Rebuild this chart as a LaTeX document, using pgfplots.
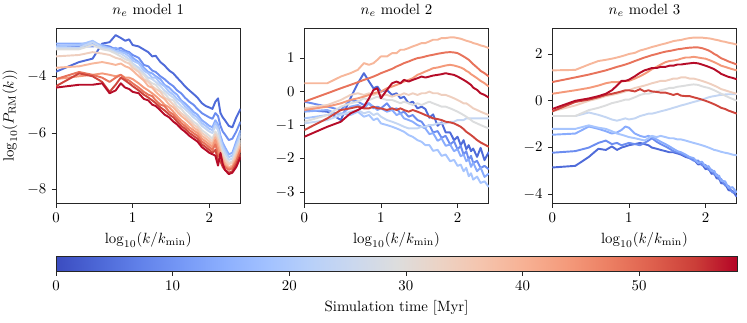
\documentclass[border=0pt]{standalone}
\usepackage{pgfplots}
\usepackage{pgfplotstable}
\pgfplotsset{compat=1.18}

\definecolor{cA}{RGB}{79,107,217}
\definecolor{cB}{RGB}{108,141,240}
\definecolor{cC}{RGB}{137,172,253}
\definecolor{cD}{RGB}{167,197,254}
\definecolor{cE}{RGB}{196,214,243}
\definecolor{cF}{RGB}{220,221,222}
\definecolor{cG}{RGB}{239,207,191}
\definecolor{cH}{RGB}{247,183,155}
\definecolor{cI}{RGB}{244,153,122}
\definecolor{cJ}{RGB}{232,115,91}
\definecolor{cK}{RGB}{207,69,60}
\definecolor{cL}{RGB}{182,12,40}

\pgfplotsset{colormap={coolwarm}{rgb255=(59,76,192) rgb255=(77,104,215) rgb255=(98,130,234) rgb255=(119,154,247) rgb255=(141,176,254) rgb255=(163,194,255) rgb255=(184,208,249) rgb255=(203,216,238) rgb255=(221,221,221) rgb255=(236,211,197) rgb255=(245,196,173) rgb255=(247,177,148) rgb255=(244,154,123) rgb255=(236,127,99) rgb255=(222,96,77) rgb255=(203,62,56) rgb255=(180,4,38)}}

\pgfplotstableread{
x a b c d e f g h i j k l
0.000 -3.84 -2.95 -2.85 -2.95 -3.00 -3.05 -3.30 -3.70 -4.10 -4.10 -4.35 -4.40
0.301 -3.50 -2.95 -2.85 -2.90 -3.00 -3.05 -3.25 -3.65 -4.00 -3.85 -3.90 -4.30
0.477 -3.38 -2.95 -2.85 -2.75 -2.80 -2.90 -3.15 -3.55 -3.95 -3.95 -4.00 -4.30
0.602 -2.85 -2.90 -2.90 -2.95 -3.00 -3.05 -3.20 -3.50 -3.90 -4.05 -4.20 -4.25
0.699 -2.80 -2.95 -3.05 -3.00 -3.05 -3.10 -3.25 -3.55 -3.95 -4.20 -4.55 -4.60
0.778 -2.55 -3.05 -3.00 -3.10 -3.15 -3.20 -3.35 -3.60 -4.00 -4.05 -4.30 -4.50
0.845 -2.65 -3.00 -3.10 -3.15 -3.20 -3.30 -3.40 -3.55 -3.95 -3.95 -4.05 -4.25
0.903 -2.75 -3.10 -3.15 -3.20 -3.30 -3.40 -3.50 -3.65 -4.05 -4.10 -4.15 -4.40
0.954 -2.70 -3.15 -3.20 -3.30 -3.40 -3.45 -3.55 -3.70 -4.05 -4.15 -4.25 -4.45
1.000 -2.90 -3.25 -3.35 -3.45 -3.55 -3.60 -3.70 -3.80 -4.10 -4.25 -4.35 -4.55
1.079 -2.95 -3.35 -3.50 -3.55 -3.70 -3.80 -3.85 -4.00 -4.25 -4.40 -4.50 -4.60
1.146 -3.06 -3.60 -3.70 -3.80 -3.90 -3.95 -4.10 -4.15 -4.40 -4.55 -4.65 -4.80
1.204 -3.15 -3.65 -3.85 -3.90 -4.05 -4.15 -4.20 -4.35 -4.50 -4.65 -4.75 -4.85
1.255 -3.30 -3.80 -3.90 -4.05 -4.10 -4.25 -4.35 -4.40 -4.60 -4.70 -4.85 -5.00
1.301 -3.28 -3.85 -4.00 -4.05 -4.20 -4.30 -4.45 -4.55 -4.70 -4.85 -4.95 -5.05
1.362 -3.50 -4.00 -4.10 -4.25 -4.35 -4.50 -4.55 -4.70 -4.85 -5.00 -5.10 -5.20
1.415 -3.62 -4.10 -4.30 -4.35 -4.50 -4.60 -4.75 -4.80 -5.00 -5.05 -5.20 -5.35
1.477 -3.80 -4.25 -4.40 -4.55 -4.65 -4.80 -4.85 -5.00 -5.10 -5.25 -5.35 -5.45
1.531 -3.90 -4.35 -4.55 -4.65 -4.75 -4.85 -5.00 -5.10 -5.25 -5.35 -5.45 -5.60
1.580 -4.05 -4.50 -4.65 -4.80 -4.90 -5.05 -5.15 -5.25 -5.40 -5.50 -5.60 -5.70
1.633 -4.20 -4.60 -4.85 -4.90 -5.05 -5.15 -5.30 -5.40 -5.55 -5.65 -5.75 -5.85
1.681 -4.35 -4.75 -4.95 -5.05 -5.15 -5.30 -5.40 -5.50 -5.65 -5.75 -5.85 -5.95
1.740 -4.50 -4.90 -5.10 -5.20 -5.30 -5.45 -5.55 -5.65 -5.80 -5.90 -6.00 -6.10
1.792 -4.62 -5.00 -5.25 -5.35 -5.45 -5.60 -5.70 -5.80 -5.90 -6.00 -6.10 -6.20
1.845 -4.75 -5.15 -5.35 -5.45 -5.55 -5.70 -5.80 -5.90 -6.00 -6.10 -6.20 -6.30
1.903 -4.95 -5.30 -5.55 -5.65 -5.75 -5.90 -6.00 -6.10 -6.20 -6.30 -6.40 -6.50
1.954 -5.05 -5.38 -5.65 -5.75 -5.85 -6.00 -6.10 -6.20 -6.30 -6.40 -6.50 -6.60
2.000 -5.10 -5.45 -5.75 -5.85 -5.95 -6.10 -6.20 -6.30 -6.40 -6.50 -6.60 -6.70
2.041 -5.15 -5.50 -5.80 -5.90 -6.00 -6.20 -6.30 -6.40 -6.50 -6.60 -6.70 -6.75
2.079 -4.90 -5.30 -5.55 -5.65 -5.75 -5.95 -6.05 -6.15 -6.25 -6.40 -6.60 -6.80
2.114 -4.78 -5.40 -5.70 -5.80 -5.90 -6.10 -6.25 -6.40 -6.55 -6.75 -6.95 -7.15
2.146 -5.30 -5.75 -6.10 -6.20 -6.30 -6.50 -6.60 -6.70 -6.80 -6.90 -7.00 -6.70
2.176 -5.45 -5.95 -6.35 -6.45 -6.55 -6.70 -6.80 -6.90 -7.00 -7.10 -7.20 -7.10
2.204 -5.55 -6.05 -6.50 -6.60 -6.70 -6.85 -6.95 -7.05 -7.15 -7.20 -7.30 -7.30
2.255 -5.75 -6.25 -6.75 -6.85 -6.95 -7.05 -7.10 -7.20 -7.25 -7.30 -7.40 -7.45
2.301 -5.80 -6.20 -6.70 -6.80 -6.90 -7.00 -7.05 -7.15 -7.20 -7.25 -7.35 -7.40
2.352 -5.45 -5.95 -6.30 -6.40 -6.50 -6.65 -6.75 -6.85 -6.95 -7.00 -7.10 -7.20
2.408 -5.15 -5.60 -5.90 -6.00 -6.10 -6.25 -6.35 -6.45 -6.55 -6.60 -6.75 -6.85
}\tabA

\pgfplotstableread{
x a b c d e f g h i j k l
0.000 -0.55 -0.30 -0.60 -0.80 -0.95 -0.90 -0.50 0.25 -0.55 -0.30 -1.15 -1.35
0.301 -0.60 -0.45 -0.55 -0.70 -0.85 -0.70 -0.40 0.25 -0.45 -0.05 -0.80 -1.05
0.477 -0.85 -0.55 -0.70 -0.65 -0.70 -0.45 -0.25 0.45 -0.35 0.10 -0.55 -0.90
0.602 -0.20 -0.25 -0.45 -0.70 -0.60 -0.35 -0.10 0.55 -0.25 0.20 -0.50 -0.65
0.699 0.25 -0.30 -0.40 -0.60 -0.55 -0.30 -0.05 0.65 -0.20 0.28 -0.45 -0.55
0.778 0.55 -0.40 -0.50 -0.75 -0.65 -0.20 -0.10 0.85 -0.15 0.35 -0.50 -0.45
0.845 0.30 -0.35 -0.35 -0.70 -0.60 -0.25 -0.05 0.80 -0.10 0.40 -0.50 -0.20
0.903 0.10 -0.50 -0.45 -0.85 -0.70 -0.20 -0.10 0.85 -0.05 0.45 -0.45 0.05
0.954 0.15 -0.45 -0.55 -0.80 -0.65 -0.15 -0.05 0.95 -0.02 0.50 -0.50 0.10
1.000 0.00 -0.50 -0.50 -0.95 -0.75 -0.20 -0.10 1.05 0.00 0.55 -0.50 -0.20
1.079 0.05 -0.35 -0.60 -1.00 -0.85 -0.25 -0.10 1.05 0.10 0.62 -0.55 0.05
1.146 -0.10 -0.55 -0.55 -1.05 -0.90 -0.25 -0.15 1.15 0.15 0.68 -0.50 0.25
1.204 -0.05 -0.50 -0.70 -1.10 -0.95 -0.30 -0.10 1.15 0.20 0.75 -0.55 0.30
1.255 -0.20 -0.65 -0.65 -1.15 -1.00 -0.35 -0.10 1.25 0.25 0.80 -0.50 0.25
1.301 -0.15 -0.60 -0.80 -1.20 -1.05 -0.30 -0.05 1.25 0.30 0.85 -0.55 0.35
1.362 -0.35 -0.75 -0.85 -1.30 -1.10 -0.35 -0.10 1.30 0.35 0.90 -0.60 0.30
1.415 -0.30 -0.70 -0.90 -1.35 -1.10 -0.40 -0.05 1.35 0.40 0.95 -0.55 0.35
1.477 -0.50 -0.85 -1.00 -1.45 -1.10 -0.35 -0.10 1.40 0.50 1.00 -0.60 0.40
1.531 -0.45 -0.90 -1.05 -1.50 -1.05 -0.40 -0.05 1.45 0.55 1.02 -0.65 0.45
1.580 -0.52 -1.06 -1.10 -1.60 -1.05 -0.35 -0.05 1.45 0.60 1.05 -0.70 0.42
1.633 -0.78 -1.00 -1.27 -1.60 -1.00 -0.30 0.00 1.50 0.65 1.08 -0.75 0.45
1.681 -0.68 -1.22 -1.24 -1.77 -1.00 -0.35 -0.05 1.55 0.70 1.10 -0.80 0.48
1.740 -1.02 -1.18 -1.47 -1.74 -0.95 -0.40 -0.05 1.55 0.72 1.13 -0.82 0.50
1.792 -0.92 -1.38 -1.40 -1.92 -0.95 -0.45 -0.10 1.60 0.75 1.15 -0.85 0.52
1.845 -1.22 -1.32 -1.62 -1.88 -0.95 -0.45 -0.10 1.60 0.78 1.17 -0.90 0.55
1.903 -1.22 -1.58 -1.58 -2.08 -0.90 -0.50 -0.15 1.62 0.80 1.18 -0.92 0.52
1.954 -1.45 -1.48 -1.78 -2.04 -0.90 -0.55 -0.20 1.62 0.78 1.17 -0.95 0.50
2.000 -1.35 -1.73 -1.72 -2.22 -0.85 -0.60 -0.25 1.60 0.75 1.15 -1.00 0.45
2.041 -1.60 -1.62 -1.93 -2.18 -0.85 -0.65 -0.30 1.58 0.72 1.10 -1.05 0.40
2.079 -1.45 -1.88 -1.88 -2.38 -0.85 -0.70 -0.35 1.55 0.68 1.05 -1.12 0.35
2.114 -1.72 -1.78 -2.08 -2.28 -0.80 -0.75 -0.35 1.52 0.62 1.00 -1.20 0.30
2.146 -1.60 -2.03 -2.02 -2.53 -0.80 -0.80 -0.40 1.50 0.58 0.95 -1.25 0.25
2.176 -1.78 -1.92 -2.25 -2.44 -0.80 -0.85 -0.45 1.48 0.52 0.88 -1.30 0.20
2.204 -1.70 -2.13 -2.12 -2.63 -0.80 -0.90 -0.50 1.45 0.48 0.82 -1.35 0.12
2.255 -1.95 -2.07 -2.38 -2.54 -0.80 -0.95 -0.55 1.42 0.40 0.72 -1.45 0.05
2.301 -1.68 -2.28 -2.27 -2.73 -0.80 -1.00 -0.60 1.38 0.32 0.62 -1.52 -0.05
2.352 -2.05 -2.22 -2.55 -2.68 -0.80 -1.05 -0.65 1.35 0.25 0.55 -1.58 -0.10
2.408 -1.80 -2.32 -2.45 -2.85 -0.80 -1.10 -0.70 1.30 0.15 0.45 -1.65 -0.18
}\tabB

\pgfplotstableread{
x a b c d e f g h i j k l
0.000 -2.85 -2.22 -1.45 -1.20 -0.65 -0.65 -0.45 1.30 0.30 0.80 -0.45 -0.35
0.301 -2.78 -2.15 -1.40 -1.20 -0.65 -0.65 -0.20 1.32 0.45 1.00 -0.05 0.00
0.477 -2.40 -2.00 -1.10 -1.05 -0.50 -0.40 0.00 1.55 0.55 1.12 0.05 0.10
0.602 -2.05 -1.80 -1.20 -1.15 -0.60 -0.30 0.10 1.70 0.65 1.22 0.15 0.20
0.699 -2.10 -1.70 -1.30 -1.20 -0.70 -0.20 0.20 1.75 0.75 1.30 0.25 0.30
0.778 -1.95 -1.85 -1.40 -1.30 -0.80 -0.10 0.25 1.80 0.80 1.38 0.30 0.45
0.845 -2.10 -1.80 -1.35 -1.40 -0.85 -0.05 0.30 1.85 0.80 1.45 0.35 0.65
0.903 -2.00 -1.90 -1.25 -1.45 -0.80 0.00 0.35 1.90 0.82 1.50 0.40 0.85
0.954 -1.95 -1.85 -1.10 -1.50 -0.75 0.05 0.40 1.95 0.85 1.55 0.45 0.85
1.000 -1.90 -1.80 -1.15 -1.55 -0.80 0.05 0.45 2.00 0.85 1.60 0.45 0.90
1.079 -1.85 -1.85 -1.40 -1.60 -0.75 0.15 0.55 2.05 0.95 1.70 0.40 1.05
1.146 -1.80 -1.90 -1.50 -1.65 -0.65 0.25 0.60 2.15 1.05 1.78 0.50 1.20
1.204 -1.85 -1.80 -1.55 -1.70 -0.60 0.30 0.65 2.20 1.15 1.85 0.40 1.30
1.255 -1.90 -1.70 -1.50 -1.60 -0.55 0.30 0.70 2.25 1.25 1.90 0.45 1.35
1.301 -2.00 -1.60 -1.55 -1.50 -0.55 0.35 0.75 2.30 1.35 1.95 0.40 1.40
1.362 -2.05 -1.75 -1.65 -1.55 -0.50 0.40 0.80 2.35 1.45 2.00 0.38 1.40
1.415 -2.10 -1.85 -1.75 -1.50 -0.45 0.45 0.85 2.40 1.55 2.05 0.35 1.45
1.477 -2.15 -1.95 -1.85 -1.55 -0.40 0.50 0.85 2.45 1.65 2.10 0.35 1.45
1.531 -2.20 -2.05 -1.95 -1.60 -0.35 0.55 0.90 2.50 1.70 2.13 0.30 1.50
1.580 -2.20 -2.15 -2.05 -1.60 -0.30 0.55 0.95 2.55 1.72 2.16 0.25 1.50
1.633 -2.25 -2.20 -2.15 -1.65 -0.25 0.60 0.95 2.58 1.75 2.20 0.30 1.55
1.681 -2.30 -2.25 -2.20 -1.65 -0.20 0.62 1.00 2.60 1.80 2.22 0.22 1.55
1.740 -2.40 -2.35 -2.30 -1.70 -0.15 0.65 1.00 2.65 1.85 2.25 0.20 1.58
1.792 -2.45 -2.45 -2.40 -1.75 -0.10 0.68 0.95 2.68 1.85 2.27 0.20 1.60
1.845 -2.50 -2.56 -2.45 -1.80 -0.05 0.70 0.95 2.70 1.88 2.28 0.15 1.62
1.903 -2.72 -2.55 -2.66 -1.85 0.00 0.68 0.90 2.70 1.85 2.28 0.10 1.60
1.954 -2.70 -2.76 -2.60 -1.90 0.05 0.62 0.85 2.70 1.82 2.25 0.05 1.55
2.000 -2.92 -2.74 -2.82 -1.95 0.10 0.58 0.80 2.68 1.80 2.20 0.00 1.50
2.041 -2.90 -2.96 -2.79 -2.00 0.15 0.55 0.75 2.67 1.75 2.15 -0.05 1.45
2.079 -3.12 -2.94 -3.02 -2.05 0.18 0.50 0.70 2.65 1.70 2.08 -0.10 1.40
2.114 -3.10 -3.16 -2.99 -2.10 0.20 0.45 0.65 2.62 1.65 2.00 -0.15 1.35
2.146 -3.32 -3.14 -3.22 -2.12 0.22 0.40 0.60 2.60 1.60 1.95 -0.20 1.28
2.176 -3.30 -3.36 -3.19 -2.15 0.24 0.35 0.55 2.58 1.55 1.88 -0.25 1.22
2.204 -3.52 -3.34 -3.42 -2.18 0.25 0.30 0.50 2.55 1.50 1.82 -0.30 1.15
2.255 -3.55 -3.62 -3.44 -2.22 0.27 0.22 0.45 2.52 1.45 1.75 -0.35 1.08
2.301 -3.82 -3.64 -3.72 -2.25 0.28 0.15 0.40 2.48 1.40 1.68 -0.42 1.02
2.352 -3.85 -3.92 -3.69 -2.30 0.28 0.08 0.35 2.45 1.35 1.62 -0.48 0.98
2.408 -4.10 -3.90 -3.92 -2.33 0.28 0.00 0.30 2.40 1.30 1.55 -0.55 0.92
}\tabC

\newcommand{\curves}[1]{%
\addplot[cA] table[x=x,y=a]{#1};
\addplot[cB] table[x=x,y=b]{#1};
\addplot[cC] table[x=x,y=c]{#1};
\addplot[cD] table[x=x,y=d]{#1};
\addplot[cE] table[x=x,y=e]{#1};
\addplot[cF] table[x=x,y=f]{#1};
\addplot[cG] table[x=x,y=g]{#1};
\addplot[cH] table[x=x,y=h]{#1};
\addplot[cI] table[x=x,y=i]{#1};
\addplot[cJ] table[x=x,y=j]{#1};
\addplot[cK] table[x=x,y=k]{#1};
\addplot[cL] table[x=x,y=l]{#1};}

\pgfplotsset{panel/.style={
  scale only axis, width=124.5pt, height=118.1pt,
  anchor=south west,
  xmin=0, xmax=2.408, xtick={0,1,2},
  tick align=outside, xtick pos=bottom, ytick pos=left,
  major tick length=3pt,
  axis line style={line width=0.5pt, black!85},
  every tick/.style={black!85, line width=0.5pt},
  xlabel={$\log_{10}(k/k_{\min})$},
  every axis plot/.append style={line width=1.3pt, line join=round, no markers},
  title style={yshift=-2pt},
}}

\begin{document}
\begin{tikzpicture}
\useasboundingbox (0,0) rectangle (504pt,217.3pt);
\begin{axis}[panel, at={(37.8pt,80.3pt)}, ymin=-8.47, ymax=-2.30, ytick={-8,-6,-4},
  title={$n_e$ model 1}, ylabel={$\log_{10}(P_{\mathrm{RM}}(k))$}]
\curves{\tabA}
\end{axis}
\begin{axis}[panel, at={(205.3pt,80.3pt)}, ymin=-3.33, ymax=1.90, ytick={-3,-2,-1,0,1},
  title={$n_e$ model 2}]
\curves{\tabB}
\end{axis}
\begin{axis}[panel, at={(372.6pt,80.3pt)}, ymin=-4.37, ymax=3.11, ytick={-4,-2,0,2},
  title={$n_e$ model 3}]
\curves{\tabC}
\end{axis}
\begin{axis}[at={(37.8pt,34.4pt)}, anchor=south west, scale only axis,
  width=459.5pt, height=9.65pt, xmin=0, xmax=58.4, ymin=0, ymax=1,
  enlargelimits=false, axis on top,
  ytick=\empty, xtick={0,10,20,30,40,50},
  tick align=outside, xtick pos=bottom, major tick length=3pt,
  axis line style={line width=0.5pt, black!85},
  every tick/.style={black!85, line width=0.5pt},
  xlabel={Simulation time [Myr]},
  colormap name=coolwarm, point meta min=0, point meta max=58.4]
\addplot[surf, shader=interp, mesh/cols=17, point meta=x] coordinates {
(0,0) (3.65,0) (7.3,0) (10.95,0) (14.6,0) (18.25,0) (21.9,0) (25.55,0) (29.2,0) (32.85,0) (36.5,0) (40.15,0) (43.8,0) (47.45,0) (51.1,0) (54.75,0) (58.4,0)
(0,1) (3.65,1) (7.3,1) (10.95,1) (14.6,1) (18.25,1) (21.9,1) (25.55,1) (29.2,1) (32.85,1) (36.5,1) (40.15,1) (43.8,1) (47.45,1) (51.1,1) (54.75,1) (58.4,1)
};
\end{axis}
\end{tikzpicture}
\end{document}
